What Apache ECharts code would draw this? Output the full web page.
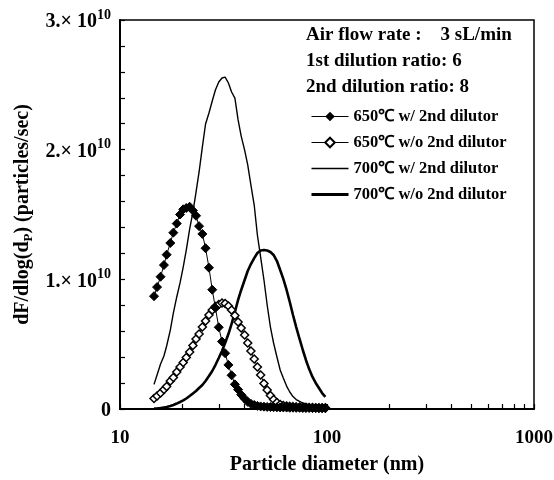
<!DOCTYPE html>
<html>
<head>
<meta charset="utf-8">
<script src="https://cdn.jsdelivr.net/npm/echarts@6/dist/echarts.min.js"></script>
<style>
html,body{margin:0;padding:0;background:#fff;}
#chart{width:554px;height:480px;}
</style>
</head>
<body>
<div id="chart"></div>
<script>
// Particle diameters (nm), SMPS channels
var diameters = [14.6,15.1,15.7,16.3,16.8,17.5,18.1,18.8,19.5,20.2,20.9,21.7,22.5,23.3,24.1,25.0,25.9,26.9,27.9,28.9,30.0,31.1,32.2,33.4,34.6,35.9,37.2,38.5,40.0,41.4,42.9,44.5,46.1,47.8,49.6,51.4,53.3,55.2,57.3,59.4,61.5,63.8,66.1,68.5,71.0,73.7,76.4,79.1,82.0,85.1,88.2,91.4,94.7,98.2];
// values in units of 1e10 particles/sec
var s650with = [0.87,0.94,1.02,1.11,1.19,1.28,1.36,1.43,1.50,1.54,1.55,1.56,1.53,1.49,1.41,1.35,1.24,1.09,0.92,0.78,0.63,0.52,0.43,0.34,0.26,0.19,0.15,0.11,0.08,0.055,0.04,0.031,0.024,0.02,0.018,0.016,0.015,0.014,0.013,0.012,0.012,0.011,0.010,0.010,0.009,0.009,0.008,0.008,0.008,0.007,0.007,0.006,0.006,0.006];
var s650without = [0.081,0.10,0.123,0.15,0.174,0.216,0.243,0.285,0.324,0.359,0.397,0.44,0.49,0.54,0.578,0.632,0.679,0.725,0.763,0.79,0.806,0.817,0.814,0.794,0.763,0.721,0.671,0.625,0.571,0.509,0.447,0.386,0.324,0.262,0.197,0.147,0.104,0.073,0.05,0.035,0.027,0.023,0.02,0.018,0.016,0.015,0.014,0.013,0.012,0.011,0.01,0.01,0.009,0.009];
var s700with = [0.19,0.262,0.347,0.409,0.486,0.609,0.74,0.864,0.972,1.095,1.226,1.388,1.519,1.673,1.828,2.021,2.198,2.283,2.375,2.46,2.522,2.553,2.56,2.514,2.445,2.398,2.229,2.105,1.997,1.882,1.727,1.573,1.342,1.172,0.995,0.802,0.632,0.509,0.401,0.301,0.239,0.177,0.131,0.096,0.073,0.058,0.046,0.039,0.031,0.027,0.023,0.019,0.015,0.015];
var s700without = [0.003,0.004,0.008,0.012,0.015,0.023,0.031,0.042,0.054,0.066,0.081,0.10,0.12,0.139,0.162,0.185,0.216,0.254,0.293,0.339,0.393,0.447,0.509,0.578,0.656,0.748,0.841,0.918,0.995,1.064,1.118,1.164,1.203,1.222,1.226,1.222,1.211,1.188,1.141,1.072,1.003,0.918,0.825,0.725,0.632,0.54,0.455,0.378,0.308,0.247,0.201,0.162,0.123,0.093];
var seriesNames = ['650\u2103 w/ 2nd dilutor','650\u2103 w/o 2nd dilutor','700\u2103 w/ 2nd dilutor','700\u2103 w/o 2nd dilutor'];
var infoLines = ['Air flow rate :    3 sL/min','1st dilution ratio: 6','2nd dilution ratio: 8'];
var xTickValues = [10,20,30,40,50,60,70,80,90,100,200,300,400,500,600,700,800,900,1000];
var yLabelValues = [0,1,2,3];
var yTickValues = [0,0.2,0.4,0.6,0.8,1,1.2,1.4,1.6,1.8,2,2.2,2.4,2.6,2.8,3];

function pairs(ys){ return diameters.map(function(d,i){ return [d, ys[i]]; }); }

var FONT = '"Liberation Serif","Times New Roman",serif';
var chart = echarts.init(document.getElementById('chart'), null, {renderer:'canvas'});
var option = {
  backgroundColor:'#fff',
  animation:false,
  grid:{left:120,right:20,top:20,bottom:71,show:true,borderColor:'#000',borderWidth:1.5,backgroundColor:'transparent',outerBoundsMode:'none',containLabel:false},
  xAxis:{
    type:'log',logBase:10,min:10,max:1000,
    name:'Particle diameter (nm)',nameLocation:'middle',nameGap:46,
    nameTextStyle:{fontFamily:FONT,fontWeight:'bold',fontSize:20,color:'#000'},
    axisLine:{lineStyle:{color:'#000',width:2}},
    axisTick:{inside:true,length:5,lineStyle:{color:'#000',width:1.2},customValues:xTickValues},
    axisLabel:{fontFamily:FONT,fontWeight:'bold',fontSize:19,color:'#000',margin:20,
      formatter:function(v){ return String(v); }},
    splitLine:{show:false},minorTick:{show:false}
  },
  yAxis:{
    type:'value',min:0,max:3,interval:1,
    name:'{a|dF/dlog(d}{s|P}{a|) (particles/sec)}',nameLocation:'middle',nameRotate:90,nameGap:70,
    nameTextStyle:{fontFamily:FONT,fontWeight:'bold',fontSize:20,color:'#000',
      rich:{a:{fontFamily:FONT,fontWeight:'bold',fontSize:20,color:'#000',lineHeight:24,verticalAlign:'middle'},
            s:{fontFamily:FONT,fontWeight:'bold',fontSize:13,color:'#000',lineHeight:24,verticalAlign:'bottom',padding:[7,0,0,0]}}},
    axisLine:{show:true,lineStyle:{color:'#000',width:2}},
    axisTick:{inside:true,length:5,lineStyle:{color:'#000',width:1.2},customValues:yTickValues},
    axisLabel:{margin:9,customValues:yLabelValues,
      formatter:function(v){ if(v===0) return '{a|0}'; return '{a|'+v+'.\u00d7 10}{s|10}'; },
      rich:{a:{fontFamily:FONT,fontWeight:'bold',fontSize:20,color:'#000',lineHeight:24,verticalAlign:'bottom'},
            s:{fontFamily:FONT,fontWeight:'bold',fontSize:14,color:'#000',lineHeight:24,verticalAlign:'top'}}},
    splitLine:{show:false}
  },
  legend:{
    orient:'vertical',left:305,top:103,itemWidth:37,itemHeight:12,itemGap:9,
    data:[
      {name:seriesNames[0],lineStyle:{width:1}},
      {name:seriesNames[1],lineStyle:{width:1}},
      {name:seriesNames[2],itemStyle:{opacity:0},lineStyle:{width:1.5}},
      {name:seriesNames[3],itemStyle:{opacity:0},lineStyle:{width:3}}
    ],
    textStyle:{fontFamily:FONT,fontWeight:'bold',fontSize:16.5,color:'#000',lineHeight:17},
    selectedMode:false
  },
  graphic:infoLines.map(function(t,i){
    return {type:'text',left:306,top:26+i*26,style:{text:t,fontFamily:FONT,fontWeight:'bold',fontSize:19,fill:'#000'}};
  }),
  series:[
    {name:seriesNames[0],type:'line',data:pairs(s650with),symbol:'diamond',symbolSize:9,showSymbol:true,
      lineStyle:{color:'#000',width:1},itemStyle:{color:'#000',borderColor:'#000'},z:4},
    {name:seriesNames[1],type:'line',data:pairs(s650without),symbol:'diamond',symbolSize:8,showSymbol:true,
      lineStyle:{color:'#000',width:1},itemStyle:{color:'#fff',borderColor:'#000',borderWidth:1.5},z:3},
    {name:seriesNames[2],type:'line',data:pairs(s700with),symbol:'none',showSymbol:false,
      lineStyle:{color:'#000',width:1.4},itemStyle:{color:'#000'},z:2},
    {name:seriesNames[3],type:'line',data:pairs(s700without),symbol:'none',showSymbol:false,
      lineStyle:{color:'#000',width:2.6},itemStyle:{color:'#000'},z:2}
  ]
};
chart.setOption(option);
</script>
</body>
</html>
